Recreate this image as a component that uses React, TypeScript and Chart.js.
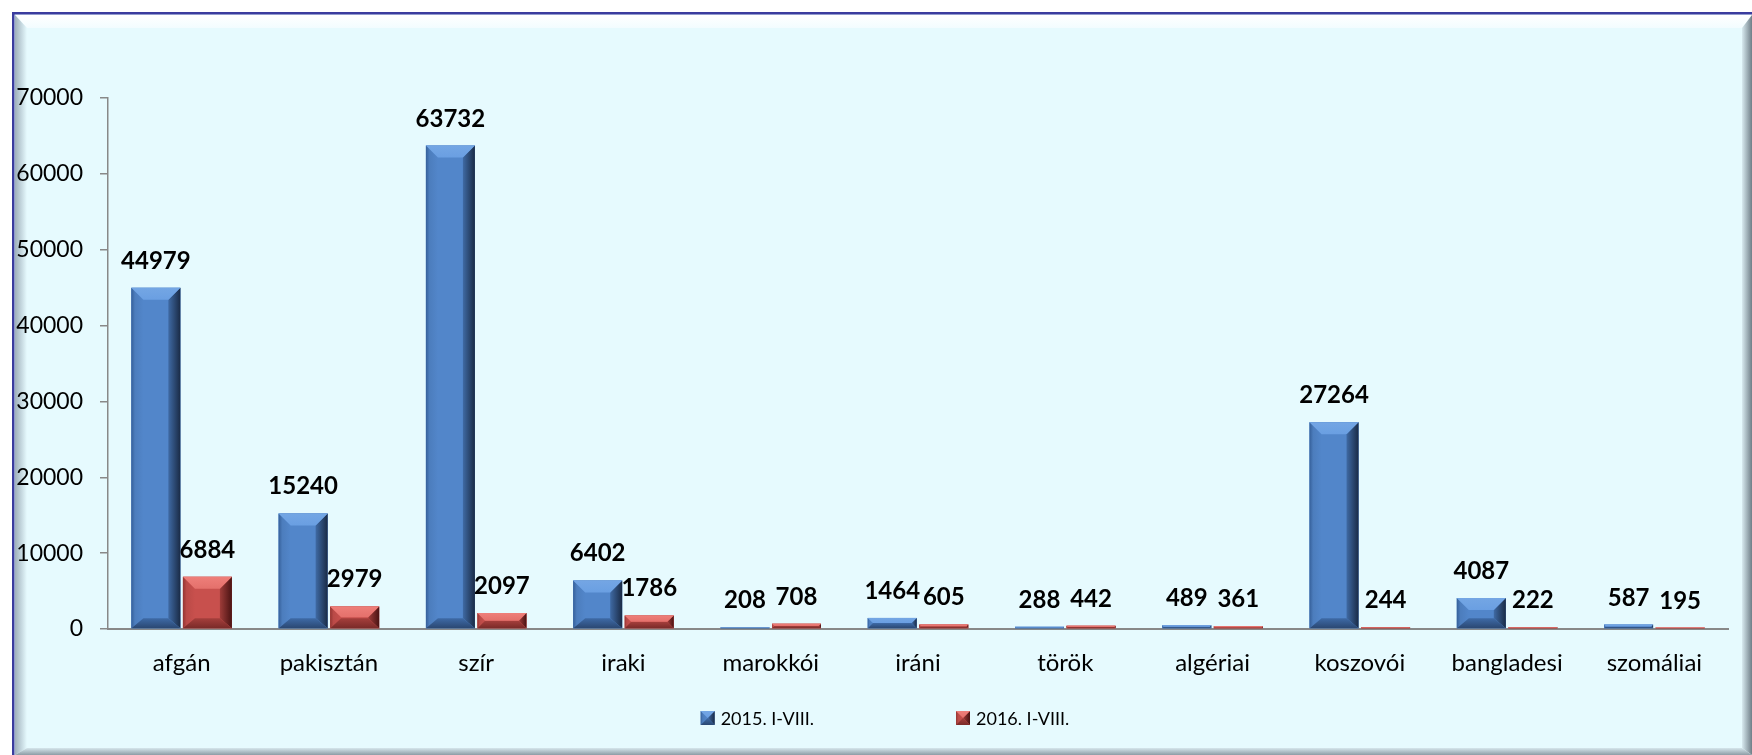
import React, { useEffect, useRef } from "react";
import { Chart, registerables } from "chart.js";

Chart.register(...registerables);

const categories = ["afgán", "pakisztán", "szír", "iraki", "marokkói", "iráni", "török", "algériai", "koszovói", "bangladesi", "szomáliai"];
const series2015 = [44979, 15240, 63732, 6402, 208, 1464, 288, 489, 27264, 4087, 587];
const series2016 = [6884, 2979, 2097, 1786, 708, 605, 442, 361, 244, 222, 195];
const seriesLabels = ["2015. I-VIII.", "2016. I-VIII."];
const yMax = 70000;
const yStep = 10000;

const FONT = "Lato, 'Open Sans', sans-serif";

type Pal = { face: string; top1: string; top2: string; left0: string; left1: string; right1: string; right2: string; bottom1: string; bottom2: string };
const palettes: Pal[] = [
  { face: "#5286CA", top1: "#74A6E4", top2: "#6A9FE2", left0: "#36609A", left1: "#4C7DBD", right1: "#3F6AA4", right2: "#1A2B46", bottom1: "#3E6AA6", bottom2: "#2A4772" },
  { face: "#C8504D", top1: "#EE7F7A", top2: "#E4706B", left0: "#943532", left1: "#BA4A47", right1: "#9E3C39", right2: "#4A1313", bottom1: "#A53F3C", bottom2: "#7A2A28" },
];

function poly(ctx: CanvasRenderingContext2D, pts: number[][], fill: string | CanvasGradient) {
  ctx.beginPath();
  ctx.moveTo(pts[0][0], pts[0][1]);
  for (let i = 1; i < pts.length; i++) ctx.lineTo(pts[i][0], pts[i][1]);
  ctx.closePath();
  ctx.fillStyle = fill;
  ctx.fill();
}

function drawBevel(ctx: CanvasRenderingContext2D, l: number, t: number, r: number, b: number, pal: Pal, maxBv = 12) {
  const w = r - l;
  const h = b - t;
  if (h <= 0 || w <= 0) return;
  const bv = Math.min(maxBv, w / 2, h / 2);
  const bb = Math.min(10, h / 2);
  ctx.save();
  ctx.fillStyle = pal.face;
  ctx.fillRect(l, t, w, h);
  const lg = ctx.createLinearGradient(l, 0, l + bv, 0);
  lg.addColorStop(0, pal.left0);
  lg.addColorStop(0.3, pal.left1);
  lg.addColorStop(1, pal.face);
  poly(ctx, [[l, t], [l + bv, t + bv], [l + bv, b - bb], [l, b]], lg);
  const rg = ctx.createLinearGradient(r - bv, 0, r, 0);
  rg.addColorStop(0, pal.right1);
  rg.addColorStop(1, pal.right2);
  poly(ctx, [[r, t], [r, b], [r - bv, b - bb], [r - bv, t + bv]], rg);
  const bg = ctx.createLinearGradient(0, b - bb, 0, b);
  bg.addColorStop(0, pal.bottom1);
  bg.addColorStop(1, pal.bottom2);
  poly(ctx, [[l, b], [l + bv, b - bb], [r - bv, b - bb], [r, b]], bg);
  const tg = ctx.createLinearGradient(0, t, 0, t + bv);
  tg.addColorStop(0, pal.top1);
  tg.addColorStop(1, pal.top2);
  poly(ctx, [[l, t], [r, t], [r - bv, t + bv], [l + bv, t + bv]], tg);
  ctx.restore();
}

const framePlugin = {
  id: "frame",
  beforeDraw(chart: any) {
    const ctx: CanvasRenderingContext2D = chart.ctx;
    const W = chart.width;
    const H = chart.height;
    ctx.save();
    ctx.fillStyle = "#ffffff";
    ctx.fillRect(0, 0, W, H);
    ctx.fillStyle = "#E6FAFE";
    ctx.fillRect(12, 12, W - 12, H - 12);
    const tg = ctx.createLinearGradient(0, 15, 0, 28);
    tg.addColorStop(0, "#FFFFFF");
    tg.addColorStop(1, "#F2FCFF");
    poly(ctx, [[15, 15], [W, 15], [W - 10, 28], [27, 28]], tg);
    const lg = ctx.createLinearGradient(15, 0, 27, 0);
    lg.addColorStop(0, "#9FB0BB");
    lg.addColorStop(1, "#E6FAFE");
    poly(ctx, [[15, 15], [27, 28], [27, H - 7], [15, H]], lg);
    const rg = ctx.createLinearGradient(W - 10, 0, W, 0);
    rg.addColorStop(0, "#D8EAF0");
    rg.addColorStop(1, "#6F7E87");
    poly(ctx, [[W, 15], [W - 10, 28], [W - 10, H - 7], [W, H]], rg);
    const bg = ctx.createLinearGradient(0, H - 7, 0, H);
    bg.addColorStop(0, "#D5E6EC");
    bg.addColorStop(1, "#8D9CA5");
    poly(ctx, [[15, H], [27, H - 7], [W - 10, H - 7], [W, H]], bg);
    ctx.strokeStyle = "#3A3C9E";
    ctx.lineWidth = 2.5;
    ctx.beginPath();
    ctx.moveTo(13.25, H);
    ctx.lineTo(13.25, 13.25);
    ctx.lineTo(W, 13.25);
    ctx.stroke();
    ctx.restore();
  },
};

const barsPlugin = {
  id: "bevelBars",
  afterDatasetsDraw(chart: any) {
    const ctx: CanvasRenderingContext2D = chart.ctx;
    chart.data.datasets.forEach((ds: any, di: number) => {
      const meta = chart.getDatasetMeta(di);
      const pal = palettes[di];
      meta.data.forEach((el: any) => {
        const { x, y, base, width } = el.getProps(["x", "y", "base", "width"], true);
        drawBevel(ctx, x - width / 2, y, x + width / 2, base, pal);
      });
    });
    ctx.save();
    ctx.fillStyle = "#000000";
    ctx.font = `bold 24px ${FONT}`;
    ctx.textAlign = "center";
    ctx.textBaseline = "alphabetic";
    chart.data.datasets.forEach((ds: any, di: number) => {
      const meta = chart.getDatasetMeta(di);
      meta.data.forEach((el: any, i: number) => {
        const { x, y } = el.getProps(["x", "y"], true);
        ctx.fillText(String(ds.data[i]), x, y - 19);
      });
    });
    ctx.restore();
  },
};

const legendPlugin = {
  id: "customLegend",
  afterDraw(chart: any) {
    const ctx: CanvasRenderingContext2D = chart.ctx;
    ctx.save();
    ctx.font = `18px ${FONT}`;
    ctx.textBaseline = "middle";
    ctx.textAlign = "left";
    const box = 14;
    const gapBoxText = 6;
    const gapItems = 142;
    const items = chart.data.datasets.map((ds: any) => ({ label: ds.label, w: box + gapBoxText + ctx.measureText(ds.label).width }));
    const total = items.reduce((s: number, it: any) => s + it.w, 0) + gapItems * (items.length - 1);
    let x = 885 - total / 2;
    const cy = 718;
    items.forEach((it: any, i: number) => {
      drawBevel(ctx, x, cy - box / 2, x + box, cy + box / 2, palettes[i], 7);
      ctx.fillStyle = "#000000";
      ctx.fillText(it.label, x + box + gapBoxText, cy + 1);
      x += it.w + gapItems;
    });
    ctx.restore();
  },
};

export default function App() {
  const ref = useRef<HTMLCanvasElement | null>(null);
  useEffect(() => {
    document.body.style.margin = "0";
    const canvas = ref.current;
    if (!canvas) return;
    const chart = new Chart(canvas, {
      type: "bar",
      data: {
        labels: categories,
        datasets: [
          { label: seriesLabels[0], data: series2015, backgroundColor: palettes[0].face, categoryPercentage: 0.7, barPercentage: 0.95 },
          { label: seriesLabels[1], data: series2016, backgroundColor: palettes[1].face, categoryPercentage: 0.7, barPercentage: 0.95 },
        ],
      },
      options: {
        responsive: false,
        animation: false,
        devicePixelRatio: 1,
        layout: { padding: { left: 16, top: 98, right: 24, bottom: 58 } },
        plugins: { legend: { display: false }, tooltip: { enabled: false } },
        scales: {
          x: {
            afterFit: (scale: any) => { scale.height = 68; },
            grid: { display: false, drawTicks: false },
            border: { display: true, color: "#888888", width: 2 },
            ticks: { color: "#000000", font: { family: FONT, size: 24 }, padding: 20, maxRotation: 0 },
          },
          y: {
            min: 0,
            max: yMax,
            afterFit: (scale: any) => { scale.width = 92; },
            grid: { display: true, drawOnChartArea: false, drawTicks: true, tickLength: 8, color: "#888888", lineWidth: 1.5 },
            border: { display: true, color: "#888888", width: 1.5 },
            ticks: { stepSize: yStep, color: "#000000", font: { family: FONT, size: 23 }, padding: 17, callback: (v: any) => String(v) },
          },
        },
      },
      plugins: [framePlugin, barsPlugin, legendPlugin],
    });
    return () => chart.destroy();
  }, []);
  return (
    <div style={{ width: 1752, height: 755, position: "relative" }}>
      <canvas ref={ref} width={1752} height={755} style={{ display: "block" }} />
    </div>
  );
}
